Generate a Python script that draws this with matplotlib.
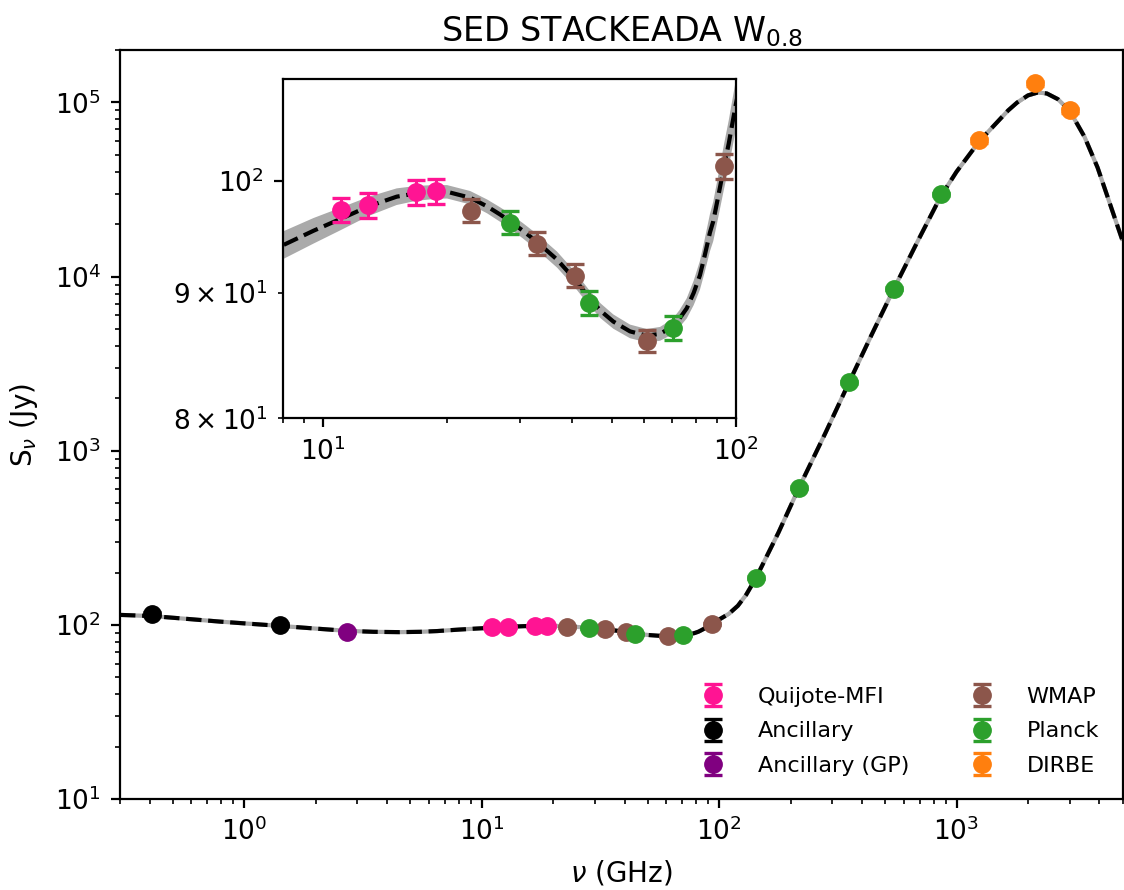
import matplotlib
matplotlib.use("Agg")
import matplotlib.pyplot as plt
import numpy as np

# ---------------- data ----------------
quijote_freq = [11.1, 12.9, 16.8, 18.8]
quijote_flux = [97.25, 97.7, 98.9, 99.0]
quijote_err = [1.1, 1.13, 1.16, 1.16]

ancillary_freq = [0.408, 1.42]
ancillary_flux = [115.8, 100.1]
ancillary_err = [2.5, 2.0]

gp_freq = [2.7]
gp_flux = [91.6]
gp_err = [2.0]

wmap_freq = [22.8, 33.0, 40.7, 60.8, 93.5]
wmap_flux = [97.22, 94.25, 91.46, 86.03, 101.33]
wmap_err = [1.04, 1.03, 1.0, 0.92, 1.22]

planck_freq = [28.4, 44.1, 70.4, 143, 217, 353, 545, 857]
planck_flux = [96.13, 89.15, 87.09, 186.7, 613.8, 2475, 8531, 29700]
planck_err = [1.05, 0.98, 0.98, 4, 12, 50, 170, 600]

dirbe_freq = [1249, 2141, 2998]
dirbe_flux = [60600, 128900, 90100]
dirbe_err = [1800, 3900, 2700]

model_freq = [0.3, 0.408, 0.6, 0.79, 1.0, 1.42, 2.0, 2.7, 3.5, 4.5, 5.5, 6.5,
              8.0, 9.5, 11.1, 12.9, 15.1, 16.8, 18.8, 20.0, 22.75, 25.0, 26.9,
              28.4, 30.5, 33.0, 36.9, 40.6, 44.1, 47.0, 50.5, 55.4, 60.8, 65.5,
              70.3, 73.0, 76.0, 79.0, 81.8, 84.0, 86.5, 88.1, 90.0, 91.5, 93.5,
              96.0, 100.0, 110, 120, 130, 143, 178, 217, 280, 353, 439, 545,
              690, 857, 1000, 1249, 1650, 1800, 2000, 2200, 2400, 2673, 2998,
              3459, 3926, 4335, 5000]
model_flux = [114.3, 112.6, 107.9, 104.6, 102.2, 98.8, 95.4, 92.6, 91.4, 91.0, 91.4, 92.3,
              94.1, 95.4, 96.5, 97.6, 98.5, 98.8, 98.95, 98.95, 98.4, 97.6, 96.85,
              96.25, 95.4, 94.4, 92.85, 91.2, 89.6, 88.5, 87.6, 86.8, 86.45, 86.6,
              87.2, 87.85, 88.7, 90.0, 91.5, 93.2, 95.25, 96.25, 98.0, 99.4, 101.3,
              103.5, 107.5, 116, 129, 149, 186, 340, 614, 1260, 2475, 4638, 8531,
              16210, 28800, 40000, 60000, 90000, 99900, 109800, 114100, 112600, 104400, 89450,
              63470, 42320, 28480, 16090]
# half-width of the grey uncertainty band, in percent of the model
band_pct = [1.5, 1.5, 1.5, 1.5, 1.5, 1.5, 1.5, 1.5, 1.5, 1.5, 1.4, 1.35,
            1.3, 1.2, 1.05, 0.9, 0.78, 0.7, 0.65, 0.63, 0.63, 0.65, 0.68,
            0.7, 0.72, 0.74, 0.75, 0.74, 0.72, 0.7, 0.67, 0.64, 0.63, 0.65,
            0.72, 0.8, 0.95, 1.15, 1.35, 1.55, 1.75, 1.85, 1.95, 2.0, 2.1,
            2.2, 2.3, 2.0, 2.0, 2.0, 2.0, 2.0, 2.0, 2.0, 2.0, 2.0, 2.0,
            2.0, 2.0, 2.0, 2.0, 2.0, 2.0, 2.0, 2.0, 2.0, 2.0, 2.0,
            2.0, 2.0, 2.0, 2.0]

series = [
    ("Quijote-MFI", quijote_freq, quijote_flux, quijote_err, "deeppink"),
    ("Ancillary", ancillary_freq, ancillary_flux, ancillary_err, "black"),
    ("Ancillary (GP)", gp_freq, gp_flux, gp_err, "purple"),
    ("WMAP", wmap_freq, wmap_flux, wmap_err, "#8c564b"),
    ("Planck", planck_freq, planck_flux, planck_err, "#2ca02c"),
    ("DIRBE", dirbe_freq, dirbe_flux, dirbe_err, "#ff7f0e"),
]

# ---------------- style ----------------
plt.rcParams['font.family'] = ['DejaVu Sans']
plt.rcParams['mathtext.fontset'] = 'dejavusans'
plt.rcParams['axes.linewidth'] = 1.6
for ax_ in ('xtick', 'ytick'):
    plt.rcParams[ax_ + '.major.size'] = 6.5
    plt.rcParams[ax_ + '.major.width'] = 1.6
    plt.rcParams[ax_ + '.minor.size'] = 3.8
    plt.rcParams[ax_ + '.minor.width'] = 1.2
    plt.rcParams[ax_ + '.major.pad'] = 7
    plt.rcParams[ax_ + '.minor.pad'] = 7
    plt.rcParams[ax_ + '.labelsize'] = 19

GREY = "#aaaaaa"
W, H = 1124, 890
fig = plt.figure(figsize=(W / 100, H / 100), dpi=100)

ax = fig.add_axes([120 / W, (H - 799.2) / H, 1002.5 / W, (799.2 - 50) / H])
axin = fig.add_axes([282.7 / W, (H - 418.3) / H, 453.3 / W, 339.3 / H])

mf = np.array(model_freq)
mv = np.array(model_flux)
bp = np.array(band_pct) / 100.0

for a in (ax, axin):
    a.set_xscale('log')
    a.set_yscale('log')
    a.fill_between(mf, mv * (1 - bp), mv * (1 + bp), color=GREY, lw=0, zorder=1)
    a.plot(mf, mv, color=GREY, lw=3, zorder=2, solid_capstyle='butt')
    a.plot(mf, mv, color='black', lw=3, ls='--', zorder=3)
    for label, f, v, e, c in series:
        a.errorbar(f, v, yerr=e, fmt='o', color=c, ms=12.5, capsize=6.2,
                   capthick=2.4, elinewidth=2.2, zorder=5,
                   label=label if a is ax else None)

ax.set_xlim(0.3, 5000)
ax.set_ylim(10, 2e5)
axin.set_xlim(8, 100)
axin.set_ylim(80, 110)

ax.set_xlabel(r'$\nu$ (GHz)', fontsize=20, labelpad=9)
ax.set_ylabel(r'S$_{\nu}$ (Jy)', fontsize=20, labelpad=10.5)
ax.set_title(r'SED STACKEADA W$_{0.8}$', fontsize=24)

ax.legend(loc='lower right', ncol=2, frameon=False, fontsize=16,
          columnspacing=2.3, handletextpad=1.0, labelspacing=0.65,
          borderaxespad=0.65)

fig.savefig('out.png', dpi=100)
